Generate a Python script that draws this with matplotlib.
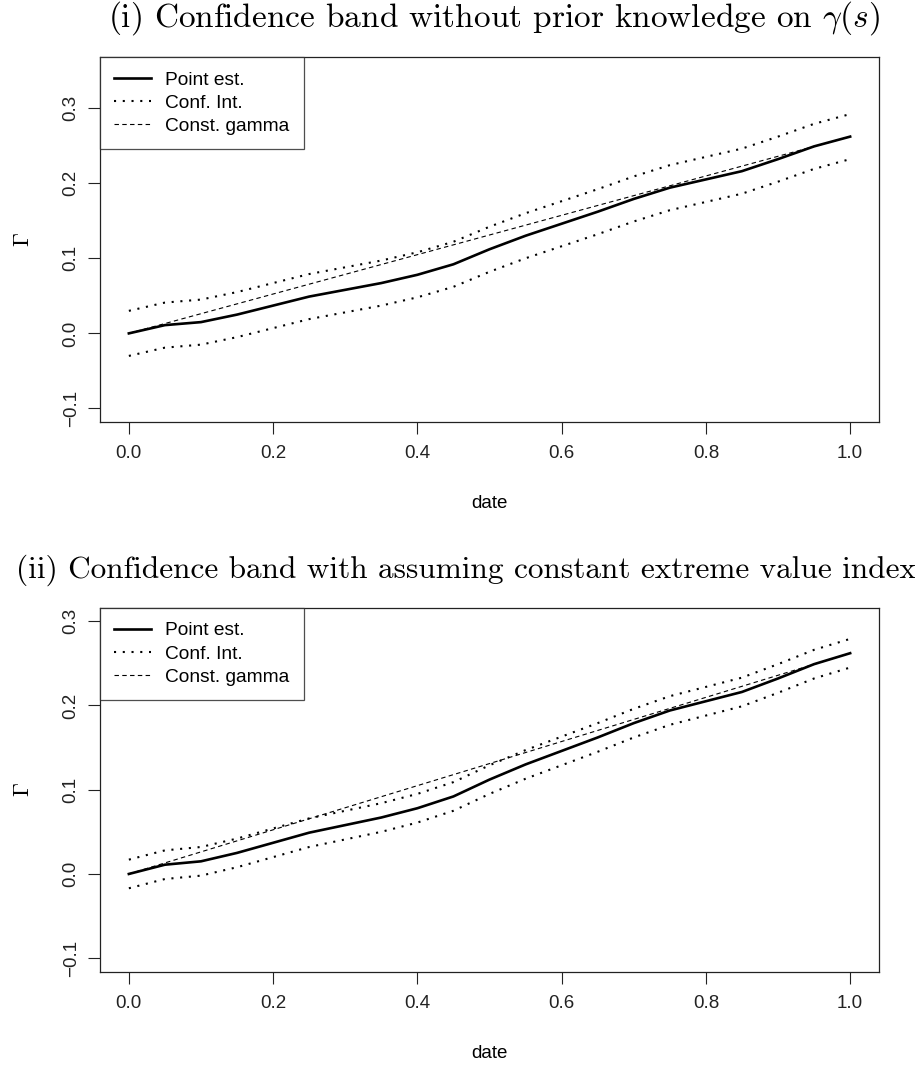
import numpy as np
import matplotlib
matplotlib.use("Agg")
import matplotlib.pyplot as plt

plt.rcParams['font.family'] = ['Liberation Sans', 'DejaVu Sans']
plt.rcParams['mathtext.fontset'] = 'cm'

# grid of dates
date = [0.0, 0.05, 0.1, 0.15, 0.2, 0.25, 0.3, 0.35, 0.4, 0.45, 0.5,
        0.55, 0.6, 0.65, 0.7, 0.75, 0.8, 0.85, 0.9, 0.95, 1.0]

# point estimate (same in both panels)
point_est = [0.0, 0.011, 0.015, 0.025, 0.037, 0.049, 0.058, 0.067, 0.078, 0.092, 0.112,
             0.130, 0.146, 0.162, 0.179, 0.194, 0.205, 0.216, 0.232, 0.249, 0.262]

# panel (i) band
ci_upper_1 = [0.030, 0.041, 0.045, 0.055, 0.067, 0.079, 0.088, 0.097, 0.108, 0.122, 0.142,
              0.160, 0.176, 0.192, 0.209, 0.224, 0.235, 0.246, 0.262, 0.279, 0.292]
ci_lower_1 = [-0.030, -0.019, -0.015, -0.005, 0.007, 0.019, 0.028, 0.037, 0.048, 0.062, 0.082,
              0.100, 0.116, 0.132, 0.149, 0.164, 0.175, 0.186, 0.202, 0.219, 0.232]

# panel (ii) band
ci_upper_2 = [0.017, 0.028, 0.032, 0.042, 0.054, 0.066, 0.075, 0.084, 0.095, 0.109, 0.129,
              0.147, 0.163, 0.179, 0.196, 0.211, 0.222, 0.233, 0.249, 0.266, 0.279]
ci_lower_2 = [-0.017, -0.006, -0.002, 0.008, 0.020, 0.032, 0.041, 0.050, 0.061, 0.075, 0.095,
              0.113, 0.129, 0.145, 0.162, 0.177, 0.188, 0.199, 0.215, 0.232, 0.245]

# constant gamma line (end points)
const_x = [0.0, 1.0]
const_y = [0.0, 0.262]

xticks = [0.0, 0.2, 0.4, 0.6, 0.8, 1.0]
xtick_labels = ["0.0", "0.2", "0.4", "0.6", "0.8", "1.0"]
yticks = [-0.1, 0.0, 0.1, 0.2, 0.3]
ytick_labels = ["\u22120.1", "0.0", "0.1", "0.2", "0.3"]

titles = [r"(i) Confidence band without prior knowledge on $\gamma(s)$",
          "(ii) Confidence band with assuming constant extreme value index"]
legend_labels = ["Point est.", "Conf. Int.", "Const. gamma"]

W, H = 915, 1069
fig = plt.figure(figsize=(W / 100, H / 100), dpi=100)

# axes boxes in pixels: left, right, top, bottom
boxes = [(100, 879, 57, 422), (100, 879, 607.7, 971.7)]
ylims = [(-0.1, 0.35), (-0.1, 0.3)]
title_pos = [(494, 27), (466, 578)]
title_size = [24, 22.5]
bands = [(ci_upper_1, ci_lower_1), (ci_upper_2, ci_lower_2)]

for k in range(2):
    l, r, t, b = boxes[k]
    ax = fig.add_axes([l / W, 1 - b / H, (r - l) / W, (b - t) / H])
    up, lo = bands[k]

    ax.plot(date, point_est, color='black', lw=1.9, label=legend_labels[0])
    ax.plot(date, up, color='black', lw=1.5, ls=(0, (1, 3.2)), label=legend_labels[1])
    ax.plot(date, lo, color='black', lw=1.5, ls=(0, (1, 3.2)))
    ax.plot(const_x, const_y, color='black', lw=0.8, ls=(0, (4, 3)), label=legend_labels[2])

    r_y = ylims[k][1] - ylims[k][0]
    ax.set_xlim(-0.04, 1.04)
    ax.set_ylim(ylims[k][0] - 0.04 * r_y, ylims[k][1] + 0.04 * r_y)
    ax.set_xticks(xticks)
    ax.set_xticklabels(xtick_labels)
    ax.set_yticks(yticks)
    ax.set_yticklabels(ytick_labels, rotation=90, va='center')
    ax.tick_params(direction='out', length=8.6, width=0.8, labelsize=13.5, pad=8,
                   colors='#222222')
    ax.tick_params(axis='y', pad=6)
    for s in ax.spines.values():
        s.set_linewidth(0.9)
        s.set_color('#222222')

    ax.set_xlabel("date", fontsize=13.5, labelpad=24)
    ax.set_ylabel(r"$\Gamma$", fontsize=16, labelpad=21)

    leg = ax.legend(loc='upper left', fontsize=13.8, frameon=True, fancybox=False,
                    borderaxespad=0, handlelength=1.9, handletextpad=0.75,
                    labelspacing=0.3, borderpad=0.75)
    leg.get_frame().set_edgecolor('#222222')
    leg.get_frame().set_linewidth(0.9)

    tx, ty = title_pos[k]
    fig.text(tx / W, 1 - ty / H, titles[k], family='cmr10', fontsize=title_size[k],
             ha='center', va='baseline')

fig.savefig("out.png", dpi=100)
